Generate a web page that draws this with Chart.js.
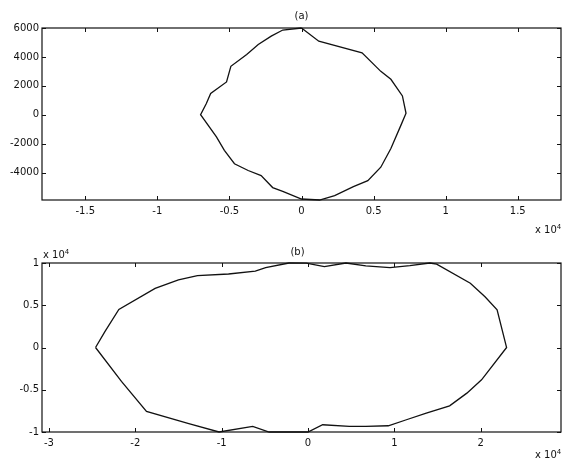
<!DOCTYPE html>
<html>
<head>
<meta charset="utf-8">
<script src="https://cdn.jsdelivr.net/npm/chart.js@4"></script>
<style>
  body { margin: 0; background: #fff; }
  #wrap { position: relative; width: 564px; height: 467px; font-family: "DejaVu Sans", sans-serif; color: #111; }
  canvas { position: absolute; left: 0; }
  .lbl { position: absolute; font-size: 10px; line-height: 12px; white-space: nowrap; }
  .lbl sup { font-size: 7px; vertical-align: 4px; line-height: 0; }
</style>
</head>
<body>
<div id="wrap">
  <canvas id="chartA" width="564" height="240" style="top:0"></canvas>
  <canvas id="chartB" width="564" height="227" style="top:240px"></canvas>
  <div class="lbl" style="left:286px;top:10px;width:31px;text-align:center">(a)</div>
  <div class="lbl" style="left:535px;top:224px">x 10<sup>4</sup></div>
  <div class="lbl" style="left:282px;top:246px;width:31px;text-align:center">(b)</div>
  <div class="lbl" style="left:43px;top:249px">x 10<sup>4</sup></div>
  <div class="lbl" style="left:535px;top:449px">x 10<sup>4</sup></div>
</div>
<script>
// (a) curve, x in units of 10^4
const xA = [0, -0.13, -0.21, -0.30, -0.38, -0.49, -0.52, -0.63, -0.66, -0.70, -0.59, -0.535, -0.465, -0.37, -0.28, -0.20, -0.13, 0, 0.125, 0.23, 0.36, 0.46, 0.55, 0.62, 0.69, 0.725, 0.70, 0.62, 0.55, 0.42, 0.12, 0];
const yA = [6000, 5860, 5440, 4860, 4170, 3350, 2270, 1470, 770, 0, -1530, -2460, -3390, -3860, -4210, -5040, -5300, -5830, -5900, -5600, -4980, -4560, -3630, -2340, -720, 100, 1300, 2450, 3000, 4280, 5090, 6000];

// (b) curve, both axes in units of 10^4
const xB = [-2.46, -2.35, -2.19, -1.77, -1.50, -1.28, -0.92, -0.61, -0.49, -0.22, -0.02, 0.19, 0.44, 0.67, 0.95, 1.18, 1.41, 1.49, 1.88, 2.05, 2.19, 2.30, 2.01, 1.84, 1.64, 1.37, 1.14, 0.93, 0.67, 0.48, 0.17, 0, -0.45, -0.64, -1.03, -1.38, -1.87, -2.16, -2.46];
const yB = [0, 0.19, 0.45, 0.70, 0.80, 0.85, 0.87, 0.905, 0.946, 1.0, 0.998, 0.957, 1.0, 0.966, 0.946, 0.969, 1.0, 0.986, 0.761, 0.60, 0.446, 0, -0.382, -0.54, -0.69, -0.776, -0.855, -0.926, -0.934, -0.934, -0.914, -1.0, -1.0, -0.934, -1.0, -0.902, -0.757, -0.402, 0];

const xTicksA = [-1.5, -1, -0.5, 0, 0.5, 1, 1.5];
const yTicksA = [-4000, -2000, 0, 2000, 4000, 6000];
const xTicksB = [-3, -2, -1, 0, 1, 2];
const yTicksB = [-1, -0.5, 0, 0.5, 1];

const ink = '#111';
const tickFont = { family: 'DejaVu Sans', size: 10 };

// matlab-style box with inward ticks on all four sides
const boxPlugin = {
  id: 'box',
  afterDraw(chart) {
    const { ctx, chartArea: a, scales: { x, y } } = chart;
    const len = 4;
    ctx.save();
    ctx.strokeStyle = ink;
    ctx.lineWidth = 1.2;
    ctx.strokeRect(a.left, a.top, a.right - a.left, a.bottom - a.top);
    ctx.lineWidth = 1;
    ctx.beginPath();
    x.ticks.forEach(t => {
      const px = Math.round(x.getPixelForValue(t.value)) + 0.5;
      ctx.moveTo(px, a.bottom); ctx.lineTo(px, a.bottom - len);
      ctx.moveTo(px, a.top); ctx.lineTo(px, a.top + len);
    });
    y.ticks.forEach(t => {
      const py = Math.round(y.getPixelForValue(t.value)) + 0.5;
      ctx.moveTo(a.left, py); ctx.lineTo(a.left + len, py);
      ctx.moveTo(a.right, py); ctx.lineTo(a.right - len, py);
    });
    ctx.stroke();
    ctx.restore();
  }
};

function makeChart(id, xs, ys, xTicks, yTicks, xMin, xMax, yMin, yMax, padTop, xAxisH) {
  const pts = xs.map((v, i) => ({ x: v, y: ys[i] }));
  return new Chart(id, {
    type: 'scatter',
    data: {
      datasets: [{
        data: pts,
        showLine: true,
        borderColor: ink,
        borderWidth: 1.3,
        pointRadius: 0,
        fill: false,
        clip: false
      }]
    },
    options: {
      responsive: false,
      animation: false,
      devicePixelRatio: 1,
      layout: { padding: { top: padTop, right: 3, left: 0, bottom: 0 } },
      plugins: { legend: { display: false }, tooltip: { enabled: false } },
      scales: {
        x: {
          type: 'linear', min: xMin, max: xMax,
          grid: { display: false, drawTicks: false }, border: { display: false },
          afterBuildTicks: s => { s.ticks = xTicks.map(v => ({ value: v })); },
          afterFit: s => { s.height = xAxisH; },
          ticks: { color: ink, font: tickFont, padding: 5, maxRotation: 0, callback: v => String(v) }
        },
        y: {
          type: 'linear', min: yMin, max: yMax,
          grid: { display: false, drawTicks: false }, border: { display: false },
          afterBuildTicks: s => { s.ticks = yTicks.map(v => ({ value: v })); },
          afterFit: s => { s.width = 42; },
          ticks: { color: ink, font: tickFont, padding: 3, callback: v => String(v) }
        }
      }
    },
    plugins: [boxPlugin]
  });
}

makeChart('chartA', xA, yA, xTicksA, yTicksA, -1.8, 1.8, -5900, 6000, 28, 40);
makeChart('chartB', xB, yB, xTicksB, yTicksB, -3.08, 2.93, -1, 1, 23, 35);
</script>
</body>
</html>
